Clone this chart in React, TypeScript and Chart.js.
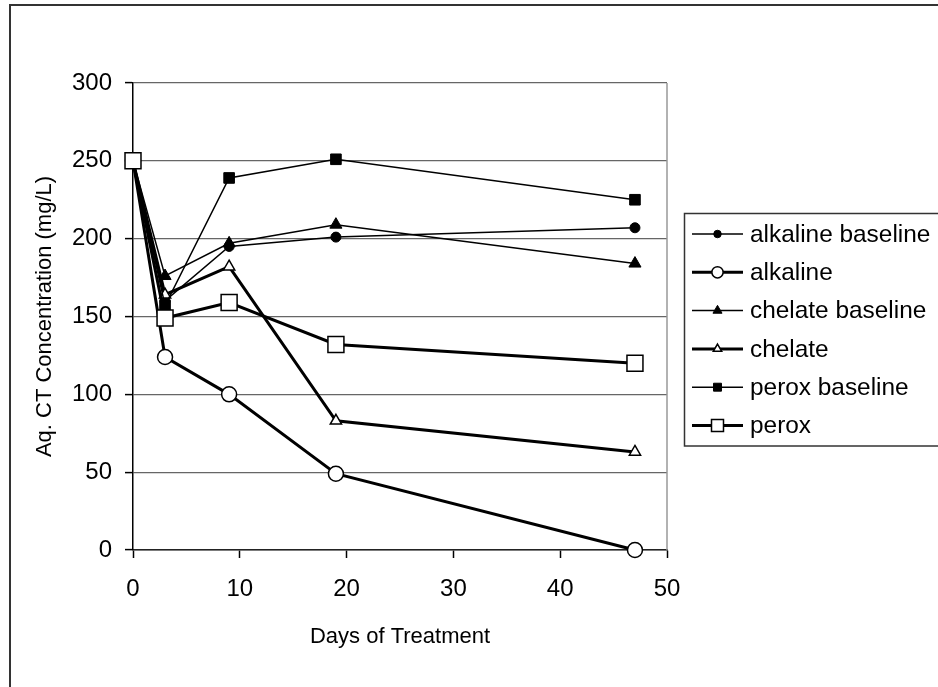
import React, { useEffect, useRef } from "react";
import { Chart, registerables } from "chart.js";
import { drawPoint } from "chart.js/helpers";

Chart.register(...registerables);

const days = [0, 3, 9, 19, 47];
const alkalineBaseline = [250, 160, 195, 201, 207];
const alkaline = [250, 124, 100, 49, 0];
const chelateBaseline = [250, 176, 197, 209, 184];
const chelate = [250, 164, 182, 83, 63];
const peroxBaseline = [250, 157, 239, 251, 225];
const perox = [250, 149, 159, 132, 120];

const xTitle = "Days of Treatment";
const yTitle = "Aq. CT Concentration (mg/L)";
const FONT = "'Liberation Sans', Arial, sans-serif";

type S = { label: string; values: number[]; thick: boolean; style: string; radius: number };
const seriesList: S[] = [
  { label: "alkaline baseline", values: alkalineBaseline, thick: false, style: "circle", radius: 5 },
  { label: "alkaline", values: alkaline, thick: true, style: "circle", radius: 7.5 },
  { label: "chelate baseline", values: chelateBaseline, thick: false, style: "triangle", radius: 7 },
  { label: "chelate", values: chelate, thick: true, style: "triangle", radius: 6.5 },
  { label: "perox baseline", values: peroxBaseline, thick: false, style: "rect", radius: 7.5 },
  { label: "perox", values: perox, thick: true, style: "rect", radius: 11.3 },
];

const framePlugin = {
  id: "frame",
  beforeDatasetsDraw(chart: any) {
    const { ctx, chartArea } = chart;
    ctx.save();
    ctx.strokeStyle = "#999";
    ctx.lineWidth = 1.5;
    ctx.beginPath();
    ctx.moveTo(chartArea.right, chartArea.top);
    ctx.lineTo(chartArea.right, chartArea.bottom);
    ctx.stroke();
    ctx.restore();
  },
  afterDraw(chart: any) {
    const { ctx } = chart;
    ctx.save();
    // outer chart border
    ctx.strokeStyle = "#333";
    ctx.lineWidth = 2;
    ctx.beginPath();
    ctx.moveTo(10, 700);
    ctx.lineTo(10, 5);
    ctx.lineTo(950, 5);
    ctx.stroke();
    // legend box
    const lx = 684.5, ly = 213.5, rowH = 38.3, firstRow = 234;
    const n = chart.data.datasets.length;
    ctx.strokeStyle = "#333";
    ctx.lineWidth = 1.5;
    ctx.strokeRect(lx, ly, 400, firstRow - ly + (n - 1) * rowH + (firstRow - ly));
    chart.data.datasets.forEach((ds: any, i: number) => {
      const y = firstRow + i * rowH;
      ctx.strokeStyle = "#000";
      ctx.lineWidth = ds.borderWidth;
      ctx.beginPath();
      ctx.moveTo(692, y);
      ctx.lineTo(743, y);
      ctx.stroke();
      ctx.fillStyle = ds.pointBackgroundColor;
      ctx.strokeStyle = ds.pointBorderColor;
      ctx.lineWidth = ds.pointBorderWidth;
      drawPoint(ctx, { pointStyle: ds.pointStyle, radius: ds.pointRadius * 0.75, rotation: 0, borderWidth: ds.pointBorderWidth }, 717.5, y);
      ctx.fillStyle = "#000";
      ctx.font = `24.4px ${FONT}`;
      ctx.textBaseline = "middle";
      ctx.textAlign = "left";
      ctx.fillText(ds.label, 750, y + 1);
    });
    ctx.restore();
  },
};

export default function App() {
  const ref = useRef<HTMLCanvasElement | null>(null);
  useEffect(() => {
    if (!ref.current) return;
    const datasets = seriesList.map((s, i) => ({
      label: s.label,
      data: days.map((d, j) => ({ x: d, y: s.values[j] })),
      showLine: true,
      clip: false as any,
      borderColor: "#000",
      borderWidth: s.thick ? 3 : 1.5,
      pointStyle: s.style,
      pointRadius: s.radius,
      pointHoverRadius: s.radius,
      pointBackgroundColor: s.thick ? "#fff" : "#000",
      pointBorderColor: "#000",
      pointBorderWidth: s.thick ? 1.5 : 1,
      order: seriesList.length - i,
    }));
    const chart = new Chart(ref.current, {
      type: "scatter",
      data: { datasets },
      options: {
        animation: false,
        responsive: false,
        devicePixelRatio: 1,
        layout: { padding: { top: 83, right: 271, bottom: 0, left: 0 } },
        plugins: { legend: { display: false }, tooltip: { enabled: false } },
        scales: {
          x: {
            type: "linear",
            min: 0,
            max: 50,
            ticks: { stepSize: 10, color: "#000", padding: 17, font: { family: FONT, size: 24 } },
            grid: { drawOnChartArea: false, tickLength: 8, color: "#000", tickColor: "#000", tickWidth: 1.5 },
            border: { color: "#222", width: 1.5 },
            title: { display: true, text: xTitle, color: "#000", font: { family: FONT, size: 22, lineHeight: 1.2 }, padding: { top: 0, bottom: 37 } },
            afterFit: (scale: any) => { scale.height = 137; },
          },
          y: {
            type: "linear",
            min: 0,
            max: 300,
            ticks: { stepSize: 50, color: "#000", padding: 13, font: { family: FONT, size: 24 } },
            grid: { color: "#666", lineWidth: 1.2, tickLength: 8, tickColor: "#000", tickWidth: 1.5 },
            border: { color: "#000", width: 1.5 },
            title: { display: true, text: yTitle, color: "#000", font: { family: FONT, size: 22, lineHeight: 1.2 }, padding: { top: 32, bottom: 0 } },
            afterFit: (scale: any) => { scale.width = 133; },
          },
        },
      },
      plugins: [framePlugin],
    });
    return () => chart.destroy();
  }, []);
  return (
    <div style={{ position: "fixed", left: 0, top: 0, width: 938, height: 687, background: "#fff" }}>
      <canvas ref={ref} width={938} height={687} style={{ width: 938, height: 687, display: "block" }} />
    </div>
  );
}
